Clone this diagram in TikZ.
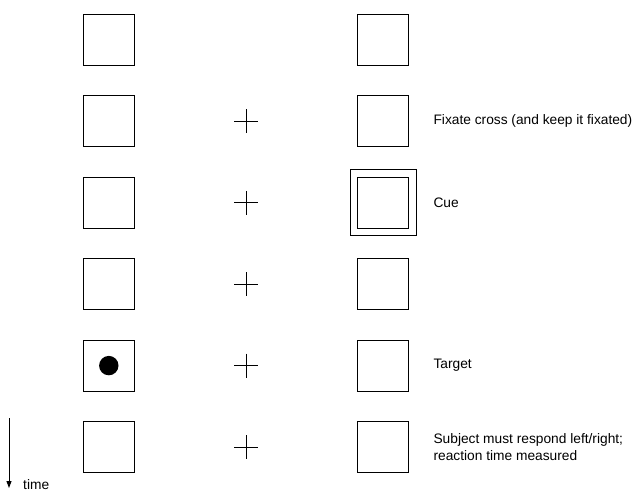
\documentclass[tikz,border=0pt]{standalone}
\usepackage{fontspec}
\setmainfont{Liberation Sans}
\usetikzlibrary{positioning,arrows.meta}

\tikzset{
  frame/.style={draw, line width=0.9bp, minimum size=51bp, inner sep=0pt},
  lbl/.style={anchor=west, inner sep=0pt, align=left,
    font=\fontsize{13.8}{17}\selectfont}
}

\begin{document}
\begin{tikzpicture}[x=1bp, y=-1bp]
    \useasboundingbox (0,0) rectangle (635,492);

    % Draw the left and right boxes of every frame
    \foreach \i/\y in {1/40, 2/121.4, 3/202.8, 4/284.2, 5/365.6, 6/447} {
        \node[frame] (left\i) at (108.8,\y) {};
        \node[frame] (right\i) at (383.4,\y) {};
    }

    % Draw the fixation crosses
    \foreach \y in {121.4, 202.8, 284.2, 365.6, 447} {
        \draw[line width=0.9bp] (234,\y) -- (258,\y);
        \draw[line width=0.9bp] (246,\y-12) -- (246,\y+12);
    }

    % Cue and target
    \node[draw, line width=0.9bp, minimum size=66bp, inner sep=0pt] (cue) at (right3) {};
    \fill (left5) circle (9.7bp);

    % Labels
    \node[lbl, right=24bp of right2] (fixate) {Fixate cross (and keep it fixated)};
    \node[lbl, right=24bp of right3] (cuetext) {Cue};
    \node[lbl, right=24bp of right5] (target) {Target};
    \node[lbl, right=24bp of right6] (respond) {Subject must respond left/right;\\reaction time measured};

    % Time axis
    \coordinate (tstart) at (9,418);
    \coordinate (tend) at (9,488);
    \draw[line width=0.9bp, -{Triangle[length=7bp, width=5bp]}] (tstart) -- (tend);
    \node[anchor=base west, inner sep=0pt, font=\fontsize{13.8}{17}\selectfont] (time) at (23,489.5) {time};
\end{tikzpicture}
\end{document}
